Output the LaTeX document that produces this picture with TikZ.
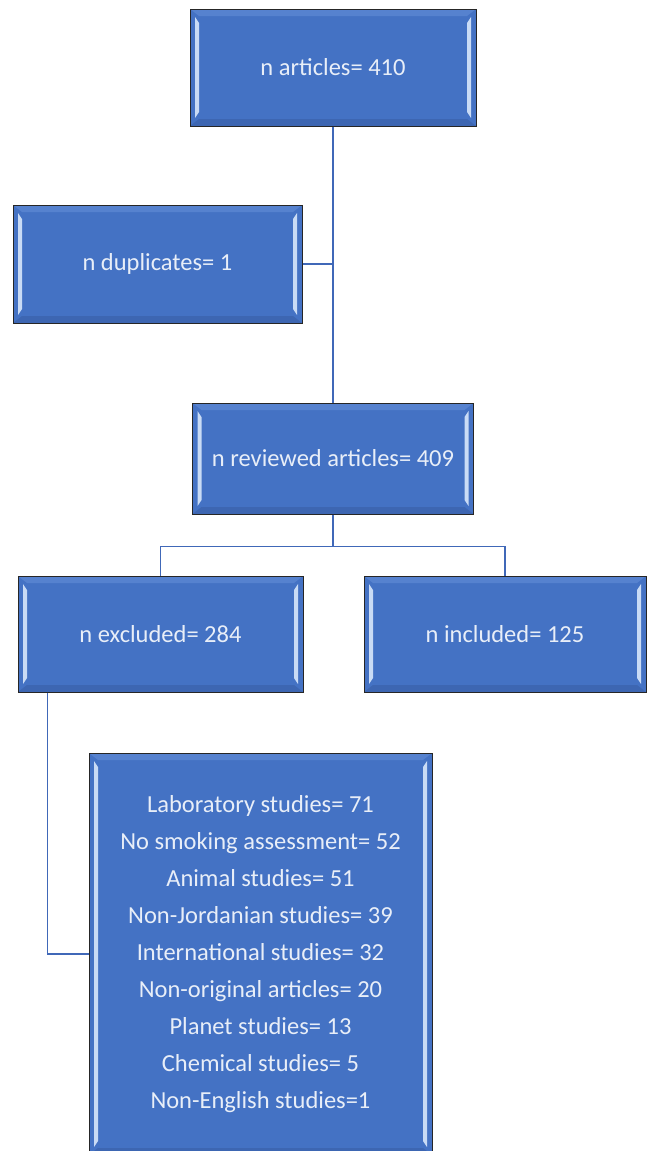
\documentclass[tikz,border=0pt]{standalone}
\usepackage{fontspec}
\setmainfont{Carlito}
\usetikzlibrary{calc}
\definecolor{boxblue}{HTML}{4472C4}
\definecolor{boxtop}{HTML}{5682CF}
\definecolor{boxbot}{HTML}{3D66B2}
\definecolor{linkblue}{HTML}{4068B8}
\definecolor{hilite}{HTML}{C9DBF5}
\definecolor{txt}{HTML}{E8EEF8}
\tikzset{
  bevelbox/.style={draw=black!85, line width=1pt, fill=boxblue, text=txt,
    align=center, inner sep=0pt, font=\fontsize{24.5}{37}\selectfont,
    path picture={
      \coordinate (ppA) at (path picture bounding box.north west);
      \coordinate (ppB) at (path picture bounding box.south east);
      \fill[boxtop] (ppA) -- (ppB|-ppA) -- ($(ppB|-ppA)+(-9,7)$) -- ($(ppA)+(9,7)$) -- cycle;
      \fill[boxbot] (ppA|-ppB) -- (ppB) -- ($(ppB)+(-9,-7)$) -- ($(ppA|-ppB)+(9,-7)$) -- cycle;
      \fill[hilite] ($(ppA)+(5,8)$) -- ($(ppA)+(9,14)$) -- ($(ppA|-ppB)+(9,-14)$) -- ($(ppA|-ppB)+(5,-8)$) -- cycle;
      \fill[hilite] ($(ppB|-ppA)+(-5,8)$) -- ($(ppB|-ppA)+(-9,14)$) -- ($(ppB)+(-9,-14)$) -- ($(ppB)+(-5,-8)$) -- cycle;
    }},
  link/.style={draw=linkblue, line width=1.6pt}
}
\begin{document}
\begin{tikzpicture}[x=1pt,y=-1pt]
  \useasboundingbox (0,0) rectangle (647,1151);
  \clip (0,0) rectangle (647,1151);
  \fill[white] (0,0) rectangle (647,1151);

  \node[bevelbox, minimum width=286pt, minimum height=117pt] (art) at (333,67.5) {n articles= 410};
  \node[bevelbox, minimum width=289pt, minimum height=118pt] (dup) at (157.5,264) {n duplicates= 1};
  \node[bevelbox, minimum width=281pt, minimum height=111pt] (rev) at (333,458.5) {n reviewed articles= 409};
  \node[bevelbox, minimum width=285pt, minimum height=116pt] (excl) at (160.5,634) {n excluded= 284};
  \node[bevelbox, minimum width=282pt, minimum height=116pt] (incl) at (505,634) {n included= 125};
  \node[bevelbox, minimum width=343pt, minimum height=402pt] (list) at (260.5,954) {Laboratory studies= 71\\
    No smoking assessment= 52\\
    Animal studies= 51\\
    Non-Jordanian studies= 39\\
    International studies= 32\\
    Non-original articles= 20\\
    Planet studies= 13\\
    Chemical studies= 5\\
    Non-English studies=1};

  \draw[link] (art.south) -- (rev.north);
  \draw[link] (dup.east) -- (dup.east -| art.south);
  \coordinate (split) at ($(rev.south)+(0,32)$);
  \draw[link] (rev.south) -- (split);
  \draw[link] (excl.north) |- (split) -| (incl.north);
  \coordinate (tap) at ($(excl.south west)+(30,0)$);
  \draw[link] (tap) |- (list.west);
\end{tikzpicture}
\end{document}
